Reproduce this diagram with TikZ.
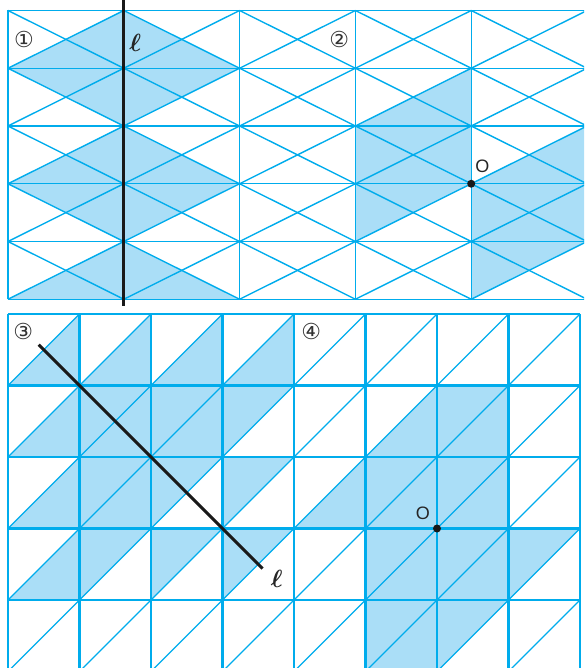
\documentclass[tikz,border=0pt]{standalone}
\usepackage{fontspec}
\usepackage{bm}
\usepackage{xcolor}
\usepackage{tikz}
\usetikzlibrary{positioning}
\newfontfamily\circfont{DejaVu Sans}
\setsansfont{Liberation Sans}
\definecolor{gridcyan}{RGB}{0,172,236}
\definecolor{shadeblue}{RGB}{170,222,247}

\begin{document}
\begin{tikzpicture}[
    x=1pt, y=-1pt,
    gline/.style={draw=gridcyan, line width=1.4pt},
    sqline/.style={draw=gridcyan, line width=2.2pt},
    dline/.style={draw=gridcyan, line width=1.3pt},
    shade/.style={fill=shadeblue},
    axis/.style={draw=black!90, line width=3pt},
    numlbl/.style={font=\circfont\fontsize{22}{22}\selectfont, text=black!80, inner sep=0pt},
    elbl/.style={font=\fontsize{24}{24}\selectfont, text=black!85, inner sep=0pt},
    olbl/.style={font=\sffamily\fontsize{18}{18}\selectfont, text=black!85, inner sep=0pt},
    dot/.style={circle, fill=black!90, inner sep=0pt, minimum size=8pt}
]
\useasboundingbox (0,0) rectangle (584,668);
\clip (0,0) rectangle (584,668);

% ---- TOP: rectangles with both diagonals ----
\begin{scope}[shift={(8,10.5)}, x=115.8pt, y=-57.75pt]
% shaded parts, figure 1 and figure 2
\fill[shade] (0,1) -- (1,0) -- (2,1) -- (1,2) -- cycle;
\fill[shade] (0,3) -- (1,2) -- (2,3) -- (1,4) -- cycle;
\fill[shade] (0,5) -- (1,4) -- (2,5) -- cycle;
\fill[shade] (3,2) -- (4,1) -- (4,3) -- (5,2) -- (5,4) -- (4,5) -- (4,3) -- (3,4) -- cycle;

% grid
\foreach \r in {0,...,5} \draw[gline] (0,\r) -- (5,\r);
\foreach \c in {0,...,5} \draw[gline] (\c,0) -- (\c,5);
\foreach \c in {0,...,4}
  \foreach \r in {0,...,4} {
    \draw[gline] (\c,\r) -- (\c+1,\r+1);
    \draw[gline] (\c,\r+1) -- (\c+1,\r);
  }

% axis l and centre O
\coordinate (lTop) at (1,-0.3);
\coordinate (lBot) at (1,5.12);
\draw[axis] (lTop) -- (lBot);
\node[numlbl] (n1) at (0.138,0.494) {①};
\node[elbl] (l1) at (1.10,0.56) {$\bm{\ell}$};
\node[numlbl] (n2) at (2.861,0.499) {②};
\node[dot] (o1) at (4,3) {};
\node[olbl, above right=8pt and 1pt of o1] (o1lbl) {O};
\end{scope}

% ---- BOTTOM: squares with one diagonal ----
\begin{scope}[shift={(8,314)}, x=71.5pt, y=-71.5pt]
% figure 3
\foreach \c in {0,...,3} \fill[shade] (\c,1) -- (\c+1,0) -- (\c+1,1) -- cycle;
\foreach \r in {1,2,3} \fill[shade] (0,\r+1) -- (1,\r) -- (1,\r+1) -- cycle;
\fill[shade] (1,1) rectangle (3,2);
\fill[shade] (1,2) rectangle (2,3);
\foreach \c/\r in {3/1,2/2,3/2,1/3,2/3,3/3}
  \fill[shade] (\c,\r) -- (\c+1,\r) -- (\c,\r+1) -- cycle;

% figure 4
\foreach \c/\r in {5/1,4/2}
  \fill[shade] (\c,\r+1) -- (\c+1,\r) -- (\c+1,\r+1) -- cycle;
\foreach \c/\r in {6/1,5/2,6/2,5/3,6/3,5/4}
  \fill[shade] (\c,\r) rectangle (\c+1,\r+1);
\foreach \c/\r in {7/3,6/4}
  \fill[shade] (\c,\r) -- (\c+1,\r) -- (\c,\r+1) -- cycle;

% grid
\foreach \c in {0,...,7}
  \foreach \r in {0,...,4}
    \draw[dline] (\c,\r+1) -- (\c+1,\r);
\foreach \r in {0,...,5} \draw[sqline] (0,\r) -- (8,\r);
\foreach \c in {0,...,8} \draw[sqline] (\c,0) -- (\c,5);

% axis l and centre O
\coordinate (mStart) at (0.43,0.43);
\coordinate (mEnd) at (3.56,3.56);
\draw[axis] (mStart) -- (mEnd);
\node[numlbl] (n3) at (0.214,0.247) {③};
\node[elbl] (l3) at (3.758,3.70) {$\bm{\ell}$};
\node[numlbl] (n4) at (4.242,0.247) {④};
\node[dot] (o2) at (6,3) {};
\node[olbl, above left=6pt and 4pt of o2] (o2lbl) {O};
\end{scope}

\end{tikzpicture}
\end{document}
